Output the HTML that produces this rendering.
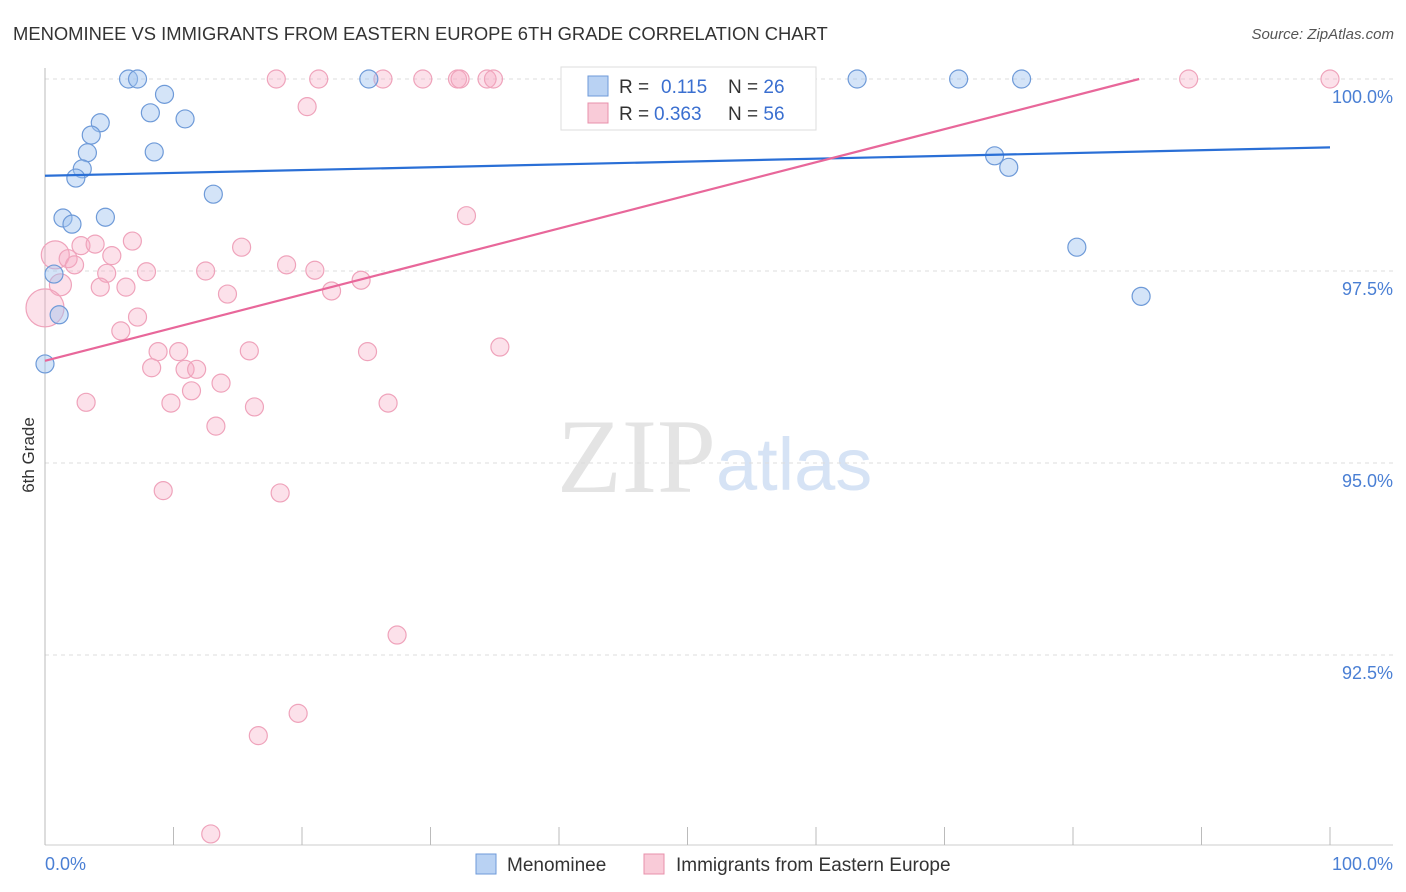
<!DOCTYPE html>
<html><head><meta charset="utf-8"><style>
body{margin:0;background:#fff;font-family:"Liberation Sans",sans-serif}
svg{display:block}
</style></head><body>
<svg id="chart" width="1406" height="892">
<text x="13" y="40" font-size="18.4" fill="#333">MENOMINEE VS IMMIGRANTS FROM EASTERN EUROPE 6TH GRADE CORRELATION CHART</text>
<text x="1394" y="39" font-size="15" fill="#555" font-style="italic" text-anchor="end">Source: ZipAtlas.com</text>
<text x="716" y="492" font-size="106" fill="#e4e4e4" text-anchor="end" font-family="Liberation Serif">ZIP</text>
<text x="716" y="490" font-size="74" fill="#d6e3f5">atlas</text>
<g id="grid"></g>
<g id="axes"></g>
<g id="marks"></g>
<text transform="translate(34,455) rotate(-90)" font-size="17" fill="#333" text-anchor="middle">6th Grade</text>
<g>
<rect x="561" y="67" width="255" height="63" fill="#fff" stroke="#ddd"/>
<rect x="588" y="76" width="20" height="20" fill="#b9d2f3" stroke="#6e9ad8"/>
<rect x="588" y="103" width="20" height="20" fill="#f9cbd8" stroke="#e890ab"/>
<text x="619" y="93" font-size="19" fill="#333">R = <tspan fill="#3a6fd0" x="661">0.115</tspan><tspan x="728">N = </tspan><tspan fill="#3a6fd0">26</tspan></text>
<text x="619" y="120" font-size="19" fill="#333">R = <tspan fill="#3a6fd0" x="654">0.363</tspan><tspan x="728">N = </tspan><tspan fill="#3a6fd0">56</tspan></text>
</g>
<g>
<rect x="476" y="854" width="20" height="20" fill="#b9d2f3" stroke="#6e9ad8"/>
<text x="507" y="871" font-size="19" fill="#333">Menominee</text>
<rect x="644" y="854" width="20" height="20" fill="#f9cbd8" stroke="#e890ab"/>
<text x="676" y="871" font-size="19" fill="#333">Immigrants from Eastern Europe</text>
</g>
</svg>
<script>
const yTicks=[100,97.5,95,92.5];
const yTickLabels=["100.0%","97.5%","95.0%","92.5%"];
const blueX=[6.5,7.2,25.2,63.2,71.1,76.0,9.3,8.2,4.3,10.9,3.6,3.3,8.5,2.9,2.4,13.1,4.7,1.4,2.1,0.7,1.1,0.0,73.9,75.0,80.3,85.3];
const blueY=[100,100,100,100,100,100,99.80,99.56,99.43,99.48,99.27,99.04,99.05,98.83,98.71,98.50,98.20,98.19,98.11,97.46,96.93,96.29,99.0,98.85,97.81,97.17];
const pinkX=[18.0,21.3,26.3,29.4,32.1,32.3,34.4,34.9,89.0,100,20.4,32.8,0.8,1.8,2.8,3.9,6.8,15.3,5.2,2.3,4.8,7.9,12.5,18.8,21.0,24.6,1.2,4.3,6.3,14.2,22.3,0,7.2,5.9,8.8,10.4,15.9,25.1,35.4,8.3,10.9,11.8,13.7,11.4,3.2,9.8,16.3,26.7,13.3,9.2,18.3,27.4,19.7,16.6,12.9];
const pinkY=[100,100,100,100,100,100,100,100,100,100,99.64,98.22,97.71,97.66,97.83,97.85,97.89,97.81,97.70,97.58,97.47,97.49,97.50,97.58,97.51,97.38,97.32,97.29,97.29,97.20,97.24,97.02,96.90,96.72,96.45,96.45,96.46,96.45,96.51,96.24,96.22,96.22,96.04,95.94,95.79,95.78,95.73,95.78,95.48,94.64,94.61,92.76,91.74,91.45,90.17];
const pinkBig=[0,0,0,0,0,0,0,0,0,0,0,0,2,0,0,0,0,0,0,0,0,0,0,0,0,0,1,0,0,0,0,3,0,0,0,0,0,0,0,0,0,0,0,0,0,0,0,0,0,0,0,0,0,0,0];
const blueTrend=[98.74,99.11];
const pinkTrend=[96.33,100.64];
const NS="http://www.w3.org/2000/svg";
const X=v=>45+v*12.85, Y=v=>79+(100-v)*76.8;
function mk(t,a,p){const e=document.createElementNS(NS,t);for(const k in a)e.setAttribute(k,a[k]);p.appendChild(e);return e;}
const grid=document.getElementById('grid'),axes=document.getElementById('axes'),marks=document.getElementById('marks');
yTicks.forEach((t,i)=>{
 const l=mk('line',{x1:45,x2:1393,y1:Y(t),y2:Y(t),stroke:'#ddd','stroke-dasharray':'4,4'},grid);
 
 
 const tx=mk('text',{x:1393,y:Y(t)+24,'font-size':18,fill:'#4a7fd4','text-anchor':'end'},axes);
 tx.textContent=yTickLabels[i];
 
 
});
mk('line',{x1:45,x2:45,y1:68,y2:845,stroke:'#bbb'},axes);
mk('line',{x1:45,x2:1393,y1:845,y2:845,stroke:'#ccc'},axes);
for(let i=0;i<=10;i++){const t=mk('line',{x1:X(i*10),x2:X(i*10),y1:827,y2:845,stroke:'#bbb'},axes);
 
 }
let a=mk('text',{x:45,y:870,'font-size':18,fill:'#4a7fd4'},axes);a.textContent='0.0%';


a=mk('text',{x:1393,y:870,'font-size':18,fill:'#4a7fd4','text-anchor':'end'},axes);a.textContent='100.0%';


pinkX.forEach((x,i)=>{const r=[9,11,14,19][pinkBig[i]];
 const c=mk('circle',{cx:X(x),cy:Y(pinkY[i]),r:r,fill:'rgba(245,170,195,0.35)',stroke:'#efa3bb','stroke-width':1.2},marks);
 
 });
blueX.forEach((x,i)=>{
 const c=mk('circle',{cx:X(x),cy:Y(blueY[i]),r:9,fill:'rgba(160,195,240,0.45)',stroke:'#6e9ad8','stroke-width':1.2},marks);
 
 });
let bl=mk('line',{x1:X(0),y1:Y(blueTrend[0]),x2:X(100),y2:Y(blueTrend[1]),stroke:'#2a6fd6','stroke-width':2.2},marks);


const slope=(pinkTrend[1]-pinkTrend[0])/100;
const xEnd=Math.min(100,(100-pinkTrend[0])/slope);
let pl=mk('line',{x1:X(0),y1:Y(pinkTrend[0]),x2:X(xEnd),y2:Y(pinkTrend[0]+slope*xEnd),stroke:'#e8679a','stroke-width':2.2},marks);


</script>
</body></html>
